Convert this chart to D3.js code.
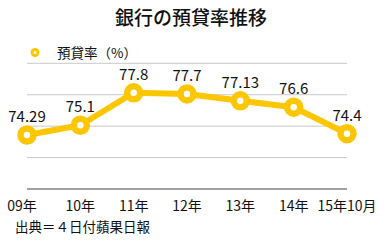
<!DOCTYPE html>
<html>
<head>
<meta charset="utf-8">
<script src="https://cdn.jsdelivr.net/npm/d3@7"></script>
<style>
  html, body { margin: 0; padding: 0; background: #fff; }
  svg { display: block; }
  text { font-family: "Noto Sans CJK JP", "Noto Sans", sans-serif; fill: #111; }
</style>
</head>
<body>
<div id="chart"></div>
<script>
// データ
const years  = ['09年', '10年', '11年', '12年', '13年', '14年', '15年10月'];
const rates  = [74.29, 75.1, 77.8, 77.7, 77.13, 76.6, 74.4];
const labels = ['74.29', '75.1', '77.8', '77.7', '77.13', '76.6', '74.4'];
const title   = '銀行の預貸率推移';
const legend  = '預貸率（%）';
const source  = '出典＝４日付蘋果日報';

const W = 384, H = 243;
const gold = '#FCC600';

const svg = d3.select('#chart').append('svg')
    .attr('width', W)
    .attr('height', H);

const x = d3.scalePoint()
    .domain(years)
    .range([27, 347]);

const y = d3.scaleLinear()
    .domain([69.8, 80.25])
    .range([189, 63.3]);

// グリッド線（5本、等間隔）
const [d0, d1] = y.domain();
const grid = d3.range(5).map(i => d0 + i * (d1 - d0) / 4);

svg.append('g')
    .selectAll('line')
    .data(grid)
    .join('line')
    .attr('x1', 27)
    .attr('x2', 347)
    .attr('y1', d => y(d))
    .attr('y2', d => y(d))
    .attr('stroke', (d, i) => i === 0 ? '#444' : '#c8c8c8')
    .attr('stroke-width', 1);

// タイトル
svg.append('text')
    .attr('x', 191)
    .attr('y', 25)
    .attr('text-anchor', 'middle')
    .attr('font-size', 19)
    .attr('font-weight', 500)
    .text(title);

// 凡例
svg.append('circle')
    .attr('cx', 35)
    .attr('cy', 52.5)
    .attr('r', 3)
    .attr('fill', '#fff')
    .attr('stroke', gold)
    .attr('stroke-width', 3);

svg.append('text')
    .attr('x', 57)
    .attr('y', 58)
    .attr('font-size', 13.5)
    .text(legend);

// 折れ線
const line = d3.line()
    .x((d, i) => x(years[i]))
    .y(d => y(d));

svg.append('path')
    .datum(rates)
    .attr('d', line)
    .attr('fill', 'none')
    .attr('stroke', gold)
    .attr('stroke-width', 6)
    .attr('stroke-linejoin', 'round');

svg.append('g')
    .selectAll('circle')
    .data(rates)
    .join('circle')
    .attr('cx', (d, i) => x(years[i]))
    .attr('cy', d => y(d))
    .attr('r', 6.5)
    .attr('fill', '#fff')
    .attr('stroke', gold)
    .attr('stroke-width', 6.5);

// 値ラベル
svg.append('g')
    .selectAll('text')
    .data(rates)
    .join('text')
    .attr('x', (d, i) => x(years[i]))
    .attr('y', d => y(d) - 13)
    .attr('text-anchor', 'middle')
    .attr('font-size', 15)
    .text((d, i) => labels[i]);

// X軸ラベル
svg.append('g')
    .selectAll('text')
    .data(years)
    .join('text')
    .attr('x', (d, i) => i === 0 ? x(d) - 5 : x(d))
    .attr('y', 211)
    .attr('text-anchor', 'middle')
    .attr('font-size', 14)
    .text(d => d);

// 出典
svg.append('text')
    .attr('x', 15)
    .attr('y', 232)
    .attr('font-size', 13.5)
    .text(source);
</script>
</body>
</html>
